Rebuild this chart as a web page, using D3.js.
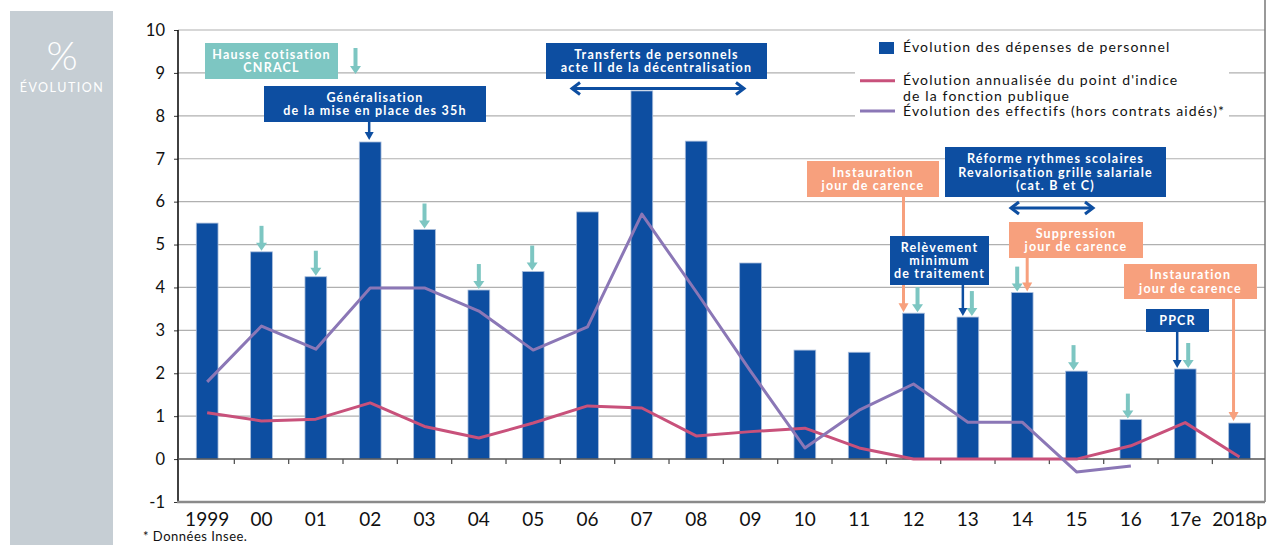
<!DOCTYPE html>
<html><head><meta charset="utf-8">
<script src="https://cdn.jsdelivr.net/npm/d3@7/dist/d3.min.js"></script>
<style>
html,body{margin:0;padding:0;background:#fff;}
svg{display:block;font-family:Lato,"Open Sans",sans-serif;}
</style></head>
<body>
<svg id="c" width="1268" height="545"></svg>
<script>
// ---- data ----
const categories = ["1999","00","01","02","03","04","05","06","07","08","09","10","11","12","13","14","15","16","17e","2018p"];
const depenses   = [5.50,4.83,4.25,7.39,5.35,3.94,4.37,5.76,8.58,7.41,4.57,2.54,2.49,3.40,3.31,3.88,2.05,0.92,2.10,0.84];
const pointIndice= [1.08,0.89,0.93,1.31,0.76,0.49,0.84,1.24,1.19,0.54,0.64,0.72,0.26,0.00,0.00,0.00,0.00,0.31,0.85,0.05];
const effectifs  = [1.80,3.10,2.56,3.99,3.99,3.45,2.54,3.08,5.71,3.90,2.05,0.26,1.14,1.75,0.86,0.86,-0.30,-0.16];
const yTicks = [-1,0,1,2,3,4,5,6,7,8,9,10];
const cotisationYears = ["00","01","03","04","05","12","13","14","15","16","17e"];
const seriesNames = ["Évolution des dépenses de personnel","Évolution annualisée du point d'indice","de la fonction publique","Évolution des effectifs (hors contrats aidés)*"];

// ---- styles ----
const C = {bar:"#0d4ea1", barStroke:"#a9bddb", pink:"#c8517b", purple:"#8b77b6", teal:"#7dc6c2", orange:"#f7a07d", grid:"#b0b0b0", panel:"#c6ced4"};

const svg = d3.select("#c");
const x = d3.scaleBand().domain(categories).range([180, 1266.7]).paddingInner(0.6).paddingOuter(0.3);
const y = d3.scaleLinear().domain([-1,10]).range([502,30]);
const cx = c => x(c) + x.bandwidth()/2;

// left panel
svg.append("rect").attr("x",10).attr("y",11).attr("width",103).attr("height",540).attr("fill",C.panel);
svg.append("text").attr("x",62).attr("y",70).attr("text-anchor","middle").attr("fill","#fff")
  .attr("font-size",40).attr("font-weight",300).text("%");
svg.append("text").attr("x",62).attr("y",92).attr("text-anchor","middle").attr("fill","#fff")
  .attr("font-size",12.5).attr("letter-spacing",1.5).text("ÉVOLUTION");

// gridlines
svg.append("g").selectAll("line").data(yTicks.filter(v=>v>0)).join("line")
  .attr("x1",178).attr("x2",1265).attr("y1",d=>y(d)).attr("y2",d=>y(d))
  .attr("stroke",C.grid).attr("stroke-width",1.2);

// right frame line
svg.append("line").attr("x1",1265).attr("x2",1265).attr("y1",0).attr("y2",502).attr("stroke","#777").attr("stroke-width",1.5);

// y axis
const ya = svg.append("g").attr("transform","translate(178,0)")
  .call(d3.axisLeft(y).tickValues(yTicks).tickSize(4).tickPadding(9).tickFormat(d => String(d)));
ya.select(".domain").remove();
ya.selectAll(".tick line").attr("stroke","#333");
ya.selectAll("text").attr("font-size",16.5).attr("fill","#111").attr("font-family","Lato, sans-serif");
svg.append("line").attr("x1",178).attr("x2",178).attr("y1",y(10)).attr("y2",y(-1)+1).attr("stroke","#111").attr("stroke-width",1.6);

// bars
svg.append("g").selectAll("rect").data(categories).join("rect")
  .attr("x",d=>x(d)).attr("width",x.bandwidth())
  .attr("y",(d,i)=>y(Math.max(0,depenses[i]))).attr("height",(d,i)=>Math.abs(y(depenses[i])-y(0)))
  .attr("fill",C.bar).attr("stroke",C.barStroke).attr("stroke-width",0.8);

// zero line + ticks
svg.append("line").attr("x1",178).attr("x2",1265).attr("y1",y(0)).attr("y2",y(0)).attr("stroke","#555").attr("stroke-width",1.5);
svg.append("g").selectAll("line").data(categories.slice(1)).join("line")
  .attr("x1",d=>x(d)-x.step()*0.3).attr("x2",d=>x(d)-x.step()*0.3)
  .attr("y1",y(0)).attr("y2",y(0)+5).attr("stroke","#555").attr("stroke-width",1.3);

// bottom axis
svg.append("line").attr("x1",177).attr("x2",1265).attr("y1",y(-1)).attr("y2",y(-1)).attr("stroke","#8a8a8a").attr("stroke-width",2.4);
const xa = svg.append("g").attr("transform",`translate(0,${y(-1)})`)
  .call(d3.axisBottom(x).tickSize(0).tickPadding(11));
xa.select(".domain").remove();
xa.selectAll("text").attr("font-size",19).attr("fill","#111").attr("font-family","Lato, sans-serif");

// lines
const line = d3.line().x(d=>cx(d.c)).y(d=>y(d.v));
svg.append("path").datum(pointIndice.map((v,i)=>({c:categories[i],v})))
  .attr("d",line).attr("fill","none").attr("stroke",C.pink).attr("stroke-width",3).attr("stroke-linejoin","round");
svg.append("path").datum(effectifs.map((v,i)=>({c:categories[i],v})))
  .attr("d",line).attr("fill","none").attr("stroke",C.purple).attr("stroke-width",3).attr("stroke-linejoin","round");

// arrows helper
function arrow(xp, y0, y1, color, sw, hw, hl){
  const g = svg.append("g");
  g.append("line").attr("x1",xp).attr("x2",xp).attr("y1",y0).attr("y2",y1-hl+1).attr("stroke",color).attr("stroke-width",sw);
  g.append("path").attr("d",`M${xp-hw/2},${y1-hl}L${xp+hw/2},${y1-hl}L${xp},${y1}Z`).attr("fill",color);
}
function dblArrow(x0,x1,yp,color){
  const g = svg.append("g").attr("fill","none").attr("stroke",color).attr("stroke-width",3);
  g.append("line").attr("x1",x0+1).attr("x2",x1-1).attr("y1",yp).attr("y2",yp);
  g.append("path").attr("d",`M${x0+9},${yp-6}L${x0+1},${yp}L${x0+9},${yp+6}`);
  g.append("path").attr("d",`M${x1-9},${yp-6}L${x1-1},${yp}L${x1-9},${yp+6}`);
}
const barTop = c => y(depenses[categories.indexOf(c)]);

// teal cotisation arrows
const tealDx = {"00":0,"01":0,"03":0,"04":0,"05":-1,"12":4,"13":4,"14":-5,"15":-3,"16":-3,"17e":3};
cotisationYears.forEach(c=>{ const t = barTop(c)-1; arrow(cx(c)+tealDx[c], t-25, t, C.teal, 4, 11, 8); });

// boxes
function box(x0,y0,x1,y1,fill,lines){
  svg.append("rect").attr("x",x0).attr("y",y0).attr("width",x1-x0).attr("height",y1-y0).attr("fill",fill);
  const lh = 13.4, mid=(y0+y1)/2;
  lines.forEach((t,i)=>{
    svg.append("text").attr("x",(x0+x1)/2).attr("y",mid+(i-(lines.length-1)/2)*lh)
      .attr("dy","0.36em").attr("text-anchor","middle").attr("fill","#fff")
      .attr("font-size",12.5).attr("font-weight",700).attr("letter-spacing",1.2).text(t);
  });
}
box(205,43,338,79,C.teal,["Hausse cotisation","CNRACL"]);
arrow(355.5,48,74,C.teal,4,11,8);
box(264,86,486,122,C.bar,["Généralisation","de la mise en place des 35h"]);
arrow(cx("02")-1,122,barTop("02")-2,C.bar,2.5,9,8);
box(546,43,767,79,C.bar,["Transferts de personnels","acte II de la décentralisation"]);
dblArrow(571,745,88.5,C.bar);
box(807,161,939,197,C.orange,["Instauration","jour de carence"]);
arrow(cx("12")-10,197,barTop("12")-1,C.orange,3,10,9);
box(945,147,1166,197,C.bar,["Réforme rythmes scolaires","Revalorisation grille salariale","(cat. B et C)"]);
dblArrow(1010,1094,208,C.bar);
box(890,236,989,285,C.bar,["Relèvement","minimum","de traitement"]);
arrow(cx("13")-5,285,barTop("13")-1,C.bar,2.5,9,8);
box(1009,222,1143,258,C.orange,["Suppression","jour de carence"]);
arrow(cx("14")+5,258,barTop("14")-1,C.orange,3,10,9);
box(1124,264,1257,299,C.orange,["Instauration","jour de carence"]);
arrow(cx("2018p")-6,299,barTop("2018p")-2,C.orange,3,10,9);
box(1146,309,1209,332,C.bar,["PPCR"]);
arrow(cx("17e")-8,332,barTop("17e")-1,C.bar,2.5,9,8);

// legend
svg.append("rect").attr("x",855).attr("y",33).attr("width",374).attr("height",91).attr("fill","#fff");
svg.append("rect").attr("x",879).attr("y",42).attr("width",15).attr("height",12).attr("fill",C.bar);
svg.append("line").attr("x1",860).attr("x2",895).attr("y1",80.7).attr("y2",80.7).attr("stroke",C.pink).attr("stroke-width",3);
svg.append("line").attr("x1",860).attr("x2",895).attr("y1",111).attr("y2",111).attr("stroke",C.purple).attr("stroke-width",3);
const legY = [47,80,95.5,111];
seriesNames.forEach((t,i)=>{
  svg.append("text").attr("x",903).attr("y",legY[i]).attr("dy","0.36em").attr("font-size",14)
    .attr("letter-spacing",1.15).attr("fill","#111").text(t);
});

// footnote
svg.append("text").attr("x",143).attr("y",541).attr("font-size",13).attr("letter-spacing",0.5).attr("fill","#111").text("* Données Insee.");
</script>
</body></html>
